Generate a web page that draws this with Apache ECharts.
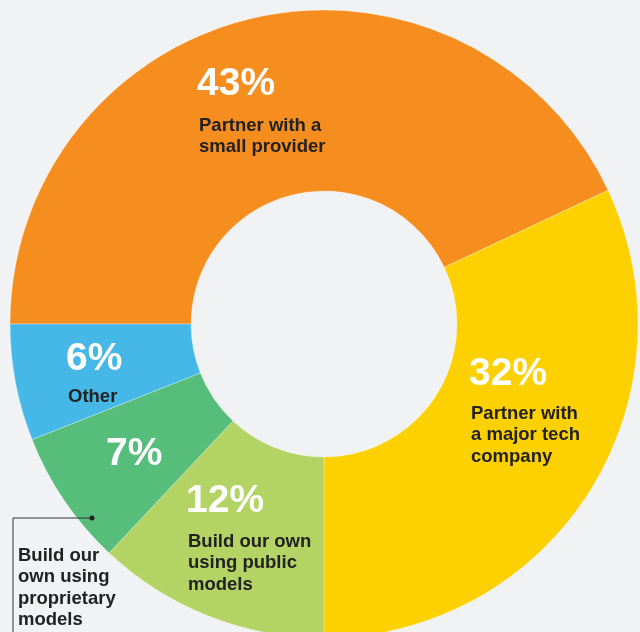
<!DOCTYPE html>
<html><head><meta charset="utf-8">
<script src="https://cdn.jsdelivr.net/npm/echarts@6/dist/echarts.min.js"></script>
<style>html,body{margin:0;padding:0;background:#F1F2F4;}#c{width:640px;height:632px;}</style>
</head><body><div id="c"></div>
<script>
const categories = ["Partner with a\nsmall provider", "Partner with\na major tech\ncompany", "Build our own\nusing public\nmodels", "Build our\nown using\nproprietary\nmodels", "Other"];
const values = [43, 32, 12, 7, 6];
const colors = ["#F68D1F", "#FDD000", "#B3D465", "#56BD7A", "#45B8E8"];

const chart = echarts.init(document.getElementById('c'));
const FONT = '"Liberation Sans", Arial, sans-serif';
const pct = v => v + '%';
function bigText(x, y, t) {
  return {type:'text', left:x, top:y, z:100, style:{text:t, fill:'#fff', font:'bold 39px ' + FONT}};
}
function labText(x, y, t) {
  return {type:'text', left:x, top:y, z:100, style:{text:t, fill:'#222', font:'bold 18.5px ' + FONT, lineHeight:21.5}};
}
chart.setOption({
  backgroundColor:'#F1F2F4',
  animation:false,
  series:[{
    type:'pie',
    center:[324,324],
    radius:[133,314],
    startAngle:180,
    clockwise:true,
    label:{show:false},
    labelLine:{show:false},
    itemStyle:{borderColor:'rgba(255,255,255,0.5)', borderWidth:0.6},
    emphasis:{disabled:true},
    data: values.map((v,i)=>({value:v, name:categories[i], itemStyle:{color:colors[i]}}))
  }],
  graphic:[
    bigText(197, 65, pct(values[0])),
    labText(199, 115, categories[0]),
    bigText(469, 355, pct(values[1])),
    labText(471, 403, categories[1]),
    bigText(186, 482, pct(values[2])),
    labText(188, 531, categories[2]),
    bigText(106, 435, pct(values[3])),
    bigText(66, 340, pct(values[4])),
    labText(68, 386, categories[4]),
    labText(18, 545, categories[3]),
    {type:'polyline', z:100, shape:{points:[[92,518],[13,518],[13,632]]}, style:{stroke:'#333', lineWidth:1, fill:null}},
    {type:'circle', z:100, shape:{cx:92, cy:518, r:2.5}, style:{fill:'#222'}}
  ]
});
</script></body></html>
